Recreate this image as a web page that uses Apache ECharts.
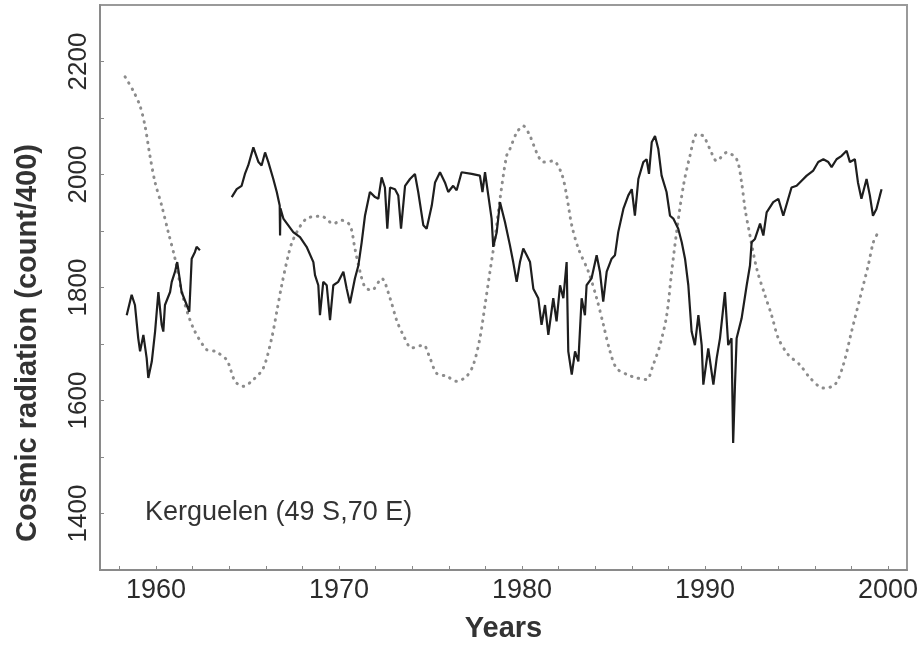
<!DOCTYPE html>
<html>
<head>
<meta charset="utf-8">
<script src="https://cdn.jsdelivr.net/npm/echarts@6/dist/echarts.min.js"></script>
<style>
html,body{margin:0;padding:0;background:#fff;}
#chart{width:922px;height:648px;}
</style>
</head>
<body>
<div id="chart"></div>
<script>
// Solid line: Kerguelen cosmic radiation (count/400); null = data gap
var cosmicYears = [1958.40,1958.67,1958.85,1959.03,1959.13,1959.31,1959.49,1959.58,1959.77,1959.95,1960.13,1960.31,1960.40,1960.49,1960.77,1960.86,1961.04,1961.16,1961.40,1961.68,1961.82,1961.95,1962.13,1962.22,1962.40,
  1963.2,
  1964.14,1964.41,1964.68,1964.86,1965.04,1965.32,1965.60,1965.77,1965.96,1966.14,1966.41,1966.60,1966.76,1966.78,1966.80,1966.96,1967.23,1967.50,1967.87,1968.23,1968.60,1968.69,1968.87,1968.96,1969.14,1969.33,1969.51,1969.69,1969.96,1970.24,1970.42,1970.60,1970.87,1971.06,1971.24,1971.42,1971.69,1971.97,1972.15,1972.33,1972.51,1972.64,1972.79,1973.06,1973.24,1973.39,1973.61,1973.88,1974.15,1974.33,1974.61,1974.79,1975.07,1975.25,1975.52,1975.79,1975.97,1976.24,1976.43,1976.70,1977.25,1977.70,1977.84,1977.98,1978.16,1978.34,1978.43,1978.62,1978.80,1979.07,1979.34,1979.52,1979.71,1979.89,1980.07,1980.26,1980.44,1980.62,1980.89,1981.07,1981.26,1981.44,1981.71,1981.89,1982.08,1982.26,1982.44,1982.53,1982.72,1982.90,1983.08,1983.26,1983.44,1983.53,1983.80,1984.08,1984.26,1984.44,1984.63,1984.90,1985.08,1985.26,1985.54,1985.81,1986.00,1986.17,1986.36,1986.63,1986.81,1986.94,1987.09,1987.27,1987.45,1987.63,1987.90,1988.09,1988.27,1988.54,1988.73,1988.91,1989.09,1989.27,1989.45,1989.64,1989.82,1989.91,1990.18,1990.46,1990.64,1990.82,1991.09,1991.27,1991.45,1991.54,1991.64,1991.73,1992.00,1992.28,1992.46,1992.55,1992.73,1993.01,1993.19,1993.37,1993.73,1994.01,1994.28,1994.55,1994.73,1995.01,1995.28,1995.56,1995.92,1996.19,1996.47,1996.74,1996.92,1997.19,1997.47,1997.74,1997.92,1998.19,1998.36,1998.55,1998.83,1999.01,1999.18,1999.37,1999.56,1999.65];
var cosmicValues = [1751,1787,1769,1710,1687,1716,1675,1640,1669,1722,1792,1734,1722,1769,1792,1810,1828,1845,1792,1769,1757,1851,1863,1872,1866,
  null,
  1960,1974,1980,2001,2016,2048,2022,2016,2039,2022,1992,1969,1945,1892,1940,1922,1910,1898,1889,1872,1845,1822,1804,1751,1810,1804,1742,1804,1810,1828,1798,1772,1816,1839,1880,1927,1969,1960,1957,1995,1977,1904,1977,1974,1963,1904,1980,1992,2001,1969,1910,1904,1945,1986,2004,1986,1969,1980,1972,2004,2001,1998,1969,2004,1963,1922,1872,1898,1951,1916,1875,1845,1810,1845,1869,1857,1845,1798,1781,1734,1769,1716,1781,1740,1804,1781,1845,1687,1646,1687,1669,1781,1751,1804,1816,1857,1828,1775,1828,1851,1857,1898,1939,1963,1974,1927,1992,2022,2027,2001,2057,2068,2045,1998,1969,1927,1922,1904,1880,1851,1804,1722,1698,1751,1698,1628,1692,1628,1675,1710,1792,1698,1710,1525,1628,1710,1745,1804,1839,1880,1886,1913,1892,1933,1951,1957,1927,1957,1977,1980,1989,1998,2007,2022,2027,2022,2013,2027,2033,2042,2022,2027,1986,1957,1992,1963,1927,1939,1963,1974];

// Dotted line: smoothed solar-activity curve on the same scale
var solarYears = [1958.31,1958.76,1959.13,1959.40,1959.67,1959.95,1960.31,1960.67,1961.04,1961.49,1962.04,1962.77,1963.22,1963.86,1964.32,1964.77,1965.32,1965.86,1966.32,1966.60,1966.87,1967.23,1967.51,1968.23,1969.05,1969.69,1970.15,1970.60,1970.87,1971.15,1971.42,1971.79,1972.33,1972.79,1973.15,1973.51,1973.97,1974.61,1974.97,1975.34,1975.88,1976.43,1976.98,1977.34,1977.70,1977.98,1978.25,1978.52,1978.80,1979.16,1979.34,1979.71,1980.07,1980.44,1980.80,1981.16,1981.71,1982.17,1982.44,1982.72,1983.08,1983.63,1984.08,1984.45,1984.81,1985.17,1985.81,1986.27,1986.81,1987.17,1987.54,1987.91,1988.18,1988.45,1988.82,1989.18,1989.55,1989.91,1990.27,1990.64,1991.19,1991.73,1992.00,1992.19,1992.46,1992.83,1993.28,1993.64,1994.01,1994.55,1995.19,1995.74,1996.47,1997.10,1997.56,1998.01,1998.47,1998.92,1999.20,1999.47];
var solarValues = [2173,2148,2121,2086,2033,1986,1945,1898,1851,1781,1728,1690,1687,1672,1634,1625,1637,1657,1710,1757,1804,1857,1886,1922,1926,1913,1919,1910,1869,1828,1801,1795,1816,1781,1742,1716,1693,1698,1675,1648,1643,1634,1643,1663,1710,1769,1828,1886,1957,2033,2045,2074,2086,2068,2039,2022,2024,2001,1963,1910,1869,1828,1781,1734,1687,1657,1645,1640,1637,1663,1698,1751,1828,1898,1980,2033,2071,2068,2045,2024,2039,2027,1986,1939,1892,1833,1786,1751,1710,1681,1663,1640,1622,1628,1663,1722,1781,1839,1880,1898];

var xLabelValues = [1960,1970,1980,1990,2000];
var xTickValues = [1958,1960,1962,1964,1966,1968,1970,1972,1974,1976,1978,1980,1982,1984,1986,1988,1990,1992,1994,1996,1998,2000];
var yLabelValues = [1400,1600,1800,2000,2200];
var yTickValues = [1400,1500,1600,1700,1800,1900,2000,2100,2200];

function pairs(xs, ys){ return xs.map(function(x,i){ return [x, ys[i]]; }); }
function plain(v){ return String(Math.round(v)); }

var FONT = '"Liberation Sans", Arial, Helvetica, sans-serif';
var chart = echarts.init(document.getElementById('chart'), null, {renderer:'canvas'});
chart.setOption({
  backgroundColor:'#fff',
  animation:false,
  grid:{left:100, top:5, right:15, bottom:75, show:true, borderColor:'#9a9a9a', borderWidth:2, containLabel:false},
  xAxis:{
    type:'value', min:1956.94, max:2001.04,
    name:'Years', nameLocation:'middle', nameGap:44,
    nameTextStyle:{fontFamily:FONT, fontSize:29, fontWeight:'bold', color:'#333'},
    axisLine:{show:true, lineStyle:{color:'#8a8a8a', width:2}},
    axisTick:{show:true, inside:true, length:4, lineStyle:{color:'#888', width:1}, customValues:xTickValues},
    axisLabel:{fontFamily:FONT, fontSize:27, color:'#2b2b2b', margin:7, customValues:xLabelValues, formatter:plain},
    splitLine:{show:false}
  },
  yAxis:{
    type:'value', min:1300, max:2300,
    axisLine:{show:true, lineStyle:{color:'#8a8a8a', width:2}},
    axisTick:{show:true, inside:true, length:4, lineStyle:{color:'#888', width:1}, customValues:yTickValues},
    axisLabel:{fontFamily:FONT, fontSize:26, color:'#2b2b2b', margin:8, rotate:90, customValues:yLabelValues, formatter:plain},
    splitLine:{show:false}
  },
  graphic:[
    {type:'text', x:28, y:343, rotation:Math.PI/2,
     style:{text:'Cosmic radiation (count/400)', fontFamily:FONT, fontSize:29, fontWeight:'bold', fill:'#333', align:'center', verticalAlign:'middle'}},
    {type:'text', x:145, y:513,
     style:{text:'Kerguelen (49 S,70 E)', fontFamily:FONT, fontSize:27, fill:'#333', align:'left', verticalAlign:'middle'}}
  ],
  series:[
    {type:'line', name:'Solar', data:pairs(solarYears, solarValues), showSymbol:false, smooth:0.3,
     lineStyle:{color:'#8c8c8c', width:3, type:[0.5,6.5], cap:'round'}, z:1},
    {type:'line', name:'Cosmic', data:pairs(cosmicYears, cosmicValues), showSymbol:false, connectNulls:false,
     lineStyle:{color:'#1e1e1e', width:2.2}, z:2}
  ]
});
</script>
</body>
</html>
